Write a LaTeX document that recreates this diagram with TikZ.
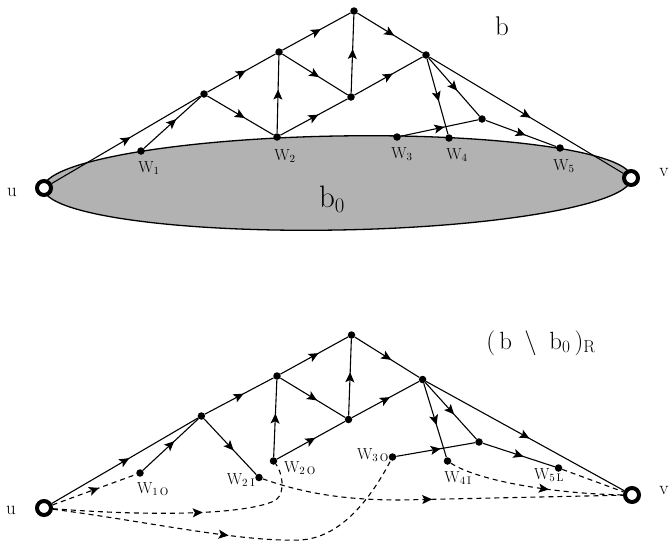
\documentclass[tikz,border=0pt]{standalone}
\usetikzlibrary{arrows.meta,decorations.markings}
\begin{document}
\begin{tikzpicture}[x=1pt,y=-1pt,
  dot/.style={circle,fill=black,inner sep=0pt,minimum size=7.5pt},
  term/.style={circle,draw=black,line width=4pt,fill=white,inner sep=0pt,minimum size=14pt},
  edge/.style={line width=1.1pt},
  dline/.style={line width=1.1pt,dash pattern=on 5pt off 4pt},
  midarr/.style={postaction={decorate,decoration={markings,
      mark=at position #1 with {\arrow[solid,xshift=5pt]{Stealth[length=10pt,width=9pt,inset=2.2pt]}}}}},
  midarr/.default=0.5,
  lab/.style={font=\fontsize{16}{18}\selectfont,inner sep=0pt},
  ulab/.style={font=\fontsize{19}{21}\selectfont,inner sep=0pt}
]
\useasboundingbox (0,0) rectangle (672,542);

% ---------- top picture ----------
\filldraw[fill=black!30,draw=black,line width=1.3pt] (337.5,183) ellipse [x radius=294,y radius=47,rotate=1];

\node[term] (u) at (44,188) {};
\node[term] (v) at (631,178) {};
\node[dot] (T) at (354,11) {};
\node[dot] (A) at (279,52) {};
\node[dot] (B) at (426,55) {};
\node[dot] (C) at (204,94) {};
\node[dot] (D) at (351,97) {};
\node[dot] (E) at (482,119) {};
\node[dot] (w1) at (141,151) {};
\node[dot] (w2) at (277,137) {};
\node[dot] (w3) at (397,137) {};
\node[dot] (w4) at (449,138) {};
\node[dot] (w5) at (560,148) {};

\draw[edge,midarr] (u) -- (C);
\draw[edge,midarr] (w1) -- (C);
\draw[edge,midarr] (C) -- (A);
\draw[edge,midarr] (A) -- (T);
\draw[edge,midarr] (T) -- (B);
\draw[edge,midarr] (B) -- (v);
\draw[edge,midarr] (C) -- (w2);
\draw[edge,midarr] (w2) -- (A);
\draw[edge,midarr] (A) -- (D);
\draw[edge,midarr] (D) -- (T);
\draw[edge,midarr] (w2) -- (D);
\draw[edge,midarr] (D) -- (B);
\draw[edge,midarr] (B) -- (w4);
\draw[edge,midarr] (B) -- (E);
\draw[edge,midarr] (w3) -- (E);
\draw[edge,midarr] (E) -- (w5);

\node[lab] (lw1) at (149,168) {W$_1$};
\node[lab] (lw2) at (285,156) {W$_2$};
\node[lab] (lw3) at (402,154) {W$_3$};
\node[lab] (lw4) at (457,155) {W$_4$};
\node[lab] (lw5) at (564,166) {W$_5$};
\node[ulab] (lu) at (12,192) {u};
\node[ulab] (lv) at (664,172) {v};
\node[font=\fontsize{27}{30}\selectfont,inner sep=0pt] (lb) at (502,26) {b};
\node[font=\fontsize{31}{34}\selectfont,inner sep=0pt] (lb0) at (332,199) {b$_0$};

% ---------- bottom picture ----------
\node[term] (u2) at (44,508) {};
\node[term] (v2) at (632,495) {};
\node[dot] (T2) at (351.5,335) {};
\node[dot] (A2) at (277,376) {};
\node[dot] (B2) at (422.6,379.5) {};
\node[dot] (C2) at (201.4,416) {};
\node[dot] (D2) at (348.5,419.5) {};
\node[dot] (E2) at (479,442) {};
\node[dot] (w10) at (140,473) {};
\node[dot] (w2i) at (259,477.5) {};
\node[dot] (w2o) at (273.5,461) {};
\node[dot] (w3o) at (392.5,457) {};
\node[dot] (w4i) at (447.5,461) {};
\node[dot] (w5l) at (558.5,468) {};

\draw[edge,midarr] (u2) -- (C2);
\draw[edge,midarr] (w10) -- (C2);
\draw[edge,midarr] (C2) -- (A2);
\draw[edge,midarr] (A2) -- (T2);
\draw[edge,midarr] (T2) -- (B2);
\draw[edge,midarr] (B2) -- (v2);
\draw[edge,midarr] (C2) -- (w2i);
\draw[edge,midarr] (w2o) -- (A2);
\draw[edge,midarr] (A2) -- (D2);
\draw[edge,midarr] (D2) -- (T2);
\draw[edge,midarr] (w2o) -- (D2);
\draw[edge,midarr] (D2) -- (B2);
\draw[edge,midarr] (B2) -- (w4i);
\draw[edge,midarr] (B2) -- (E2);
\draw[edge,midarr] (w3o) -- (E2);
\draw[edge,midarr] (E2) -- (w5l);

\draw[dline,midarr] (u2) -- (w10);
\draw[dline,midarr=0.55] (u2) .. controls (160,517) and (250,514) .. (276,500)
      .. controls (286,492) and (282,472) .. (w2o);
\draw[dline,midarr=0.46] (u2) .. controls (150,522) and (240,542) .. (300,540)
      .. controls (340,538) and (370,500) .. (w3o);
\draw[dline,midarr=0.46] (w2i) .. controls (300,492) and (340,500) .. (400,500) -- (v2);
\draw[dline,midarr=0.55] (w4i) .. controls (480,482) and (560,494) .. (v2);
\draw[dline] (w5l) -- (v2);

\node[lab] (lw10) at (153,489) {W$_{1\,\mathrm{O}}$};
\node[lab] (lw2i) at (241,480) {W$_{2\;\mathrm{I}}$};
\node[lab] (lw2o) at (300,468) {W$_{2\,\mathrm{O}}$};
\node[lab] (lw3o) at (373,455) {W$_{3\,\mathrm{O}}$};
\node[lab] (lw4i) at (458,478) {W$_{4\,\mathrm{I}}$};
\node[lab] (lw5l) at (549,475) {W$_{5\,\mathrm{L}}$};
\node[ulab] (lu2) at (11,510) {u};
\node[ulab] (lv2) at (664,490) {v};
\node[font=\fontsize{26}{30}\selectfont,inner sep=0pt] (lbb) at (541,343)
  {$(\,\mathrm{b}\;\setminus\;\mathrm{b}_{0}\,)_{\mathrm{R}}$};
\end{tikzpicture}
\end{document}
